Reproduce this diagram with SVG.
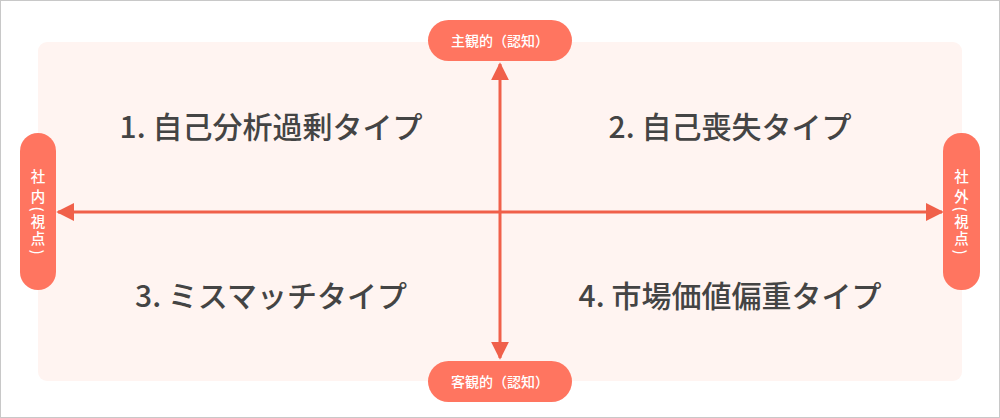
<svg xmlns="http://www.w3.org/2000/svg" width="1000" height="418" viewBox="0 0 1000 418">
<style>
.pill{fill:#FF7560;}
.pt{fill:#fff;font-family:"Noto Sans CJK JP","Noto Sans",sans-serif;font-size:14px;font-weight:500;}
.vt{fill:#fff;font-family:"Noto Sans CJK JP","Noto Sans",sans-serif;font-size:14.5px;font-weight:500;text-anchor:middle;dominant-baseline:central;}
.q{fill:#444;font-family:"Noto Sans CJK JP","Noto Sans",sans-serif;font-size:30px;font-weight:500;}
.ax{stroke:#F0604A;stroke-width:3;fill:none;}
</style>
<defs>
<marker id="ah" viewBox="0 0 10 10" refX="9" refY="5" markerWidth="6" markerHeight="6" markerUnits="strokeWidth" orient="auto">
<path d="M0,0 L10,5 L0,10 Z" fill="#F0604A"/>
</marker>
</defs>
<rect x="0.5" y="0.5" width="999" height="417" fill="#fff" stroke="#c8c8c8"/>
<rect x="38" y="42" width="924" height="339" rx="9" fill="#FFF4F1"/>
<g id="connectors">
<line class="ax" x1="500" y1="212" x2="500" y2="64" marker-end="url(#ah)"/>
<line class="ax" x1="500" y1="212" x2="500" y2="358" marker-end="url(#ah)"/>
<line class="ax" x1="500" y1="212" x2="58" y2="212" marker-end="url(#ah)"/>
<line class="ax" x1="500" y1="212" x2="942" y2="212" marker-end="url(#ah)"/>
</g>
<g id="top">
<rect class="pill" x="428" y="20" width="144" height="41" rx="20.5"/>
<text class="pt" x="500" y="45.5" text-anchor="middle">主観的（認知）</text>
</g>
<g id="bottom">
<rect class="pill" x="428" y="361" width="144" height="41" rx="20.5"/>
<text class="pt" x="500" y="386.5" text-anchor="middle">客観的（認知）</text>
</g>
<g id="left">
<rect class="pill" x="20" y="133" width="36" height="157" rx="18"/>
<text class="vt" x="38" y="175">社</text>
<text class="vt" x="38" y="195">内</text>
<text class="vt" transform="rotate(90 38 209)" x="38" y="209">(</text>
<text class="vt" x="38" y="220">視</text>
<text class="vt" x="38" y="237">点</text>
<text class="vt" transform="rotate(90 38 252)" x="38" y="252">)</text>
</g>
<g id="right">
<rect class="pill" x="943" y="133" width="37" height="157" rx="18"/>
<text class="vt" x="961.5" y="175">社</text>
<text class="vt" x="961.5" y="195">外</text>
<text class="vt" transform="rotate(90 961.5 209)" x="961.5" y="209">(</text>
<text class="vt" x="961.5" y="220">視</text>
<text class="vt" x="961.5" y="237">点</text>
<text class="vt" transform="rotate(90 961.5 252)" x="961.5" y="252">)</text>
</g>
<g id="q1"><text class="q" x="271" y="138" text-anchor="middle">1. 自己分析過剰タイプ</text></g>
<g id="q2"><text class="q" x="730" y="138" text-anchor="middle">2. 自己喪失タイプ</text></g>
<g id="q3"><text class="q" x="271" y="307" text-anchor="middle">3. ミスマッチタイプ</text></g>
<g id="q4"><text class="q" x="730" y="307" text-anchor="middle">4. 市場価値偏重タイプ</text></g>
</svg>
